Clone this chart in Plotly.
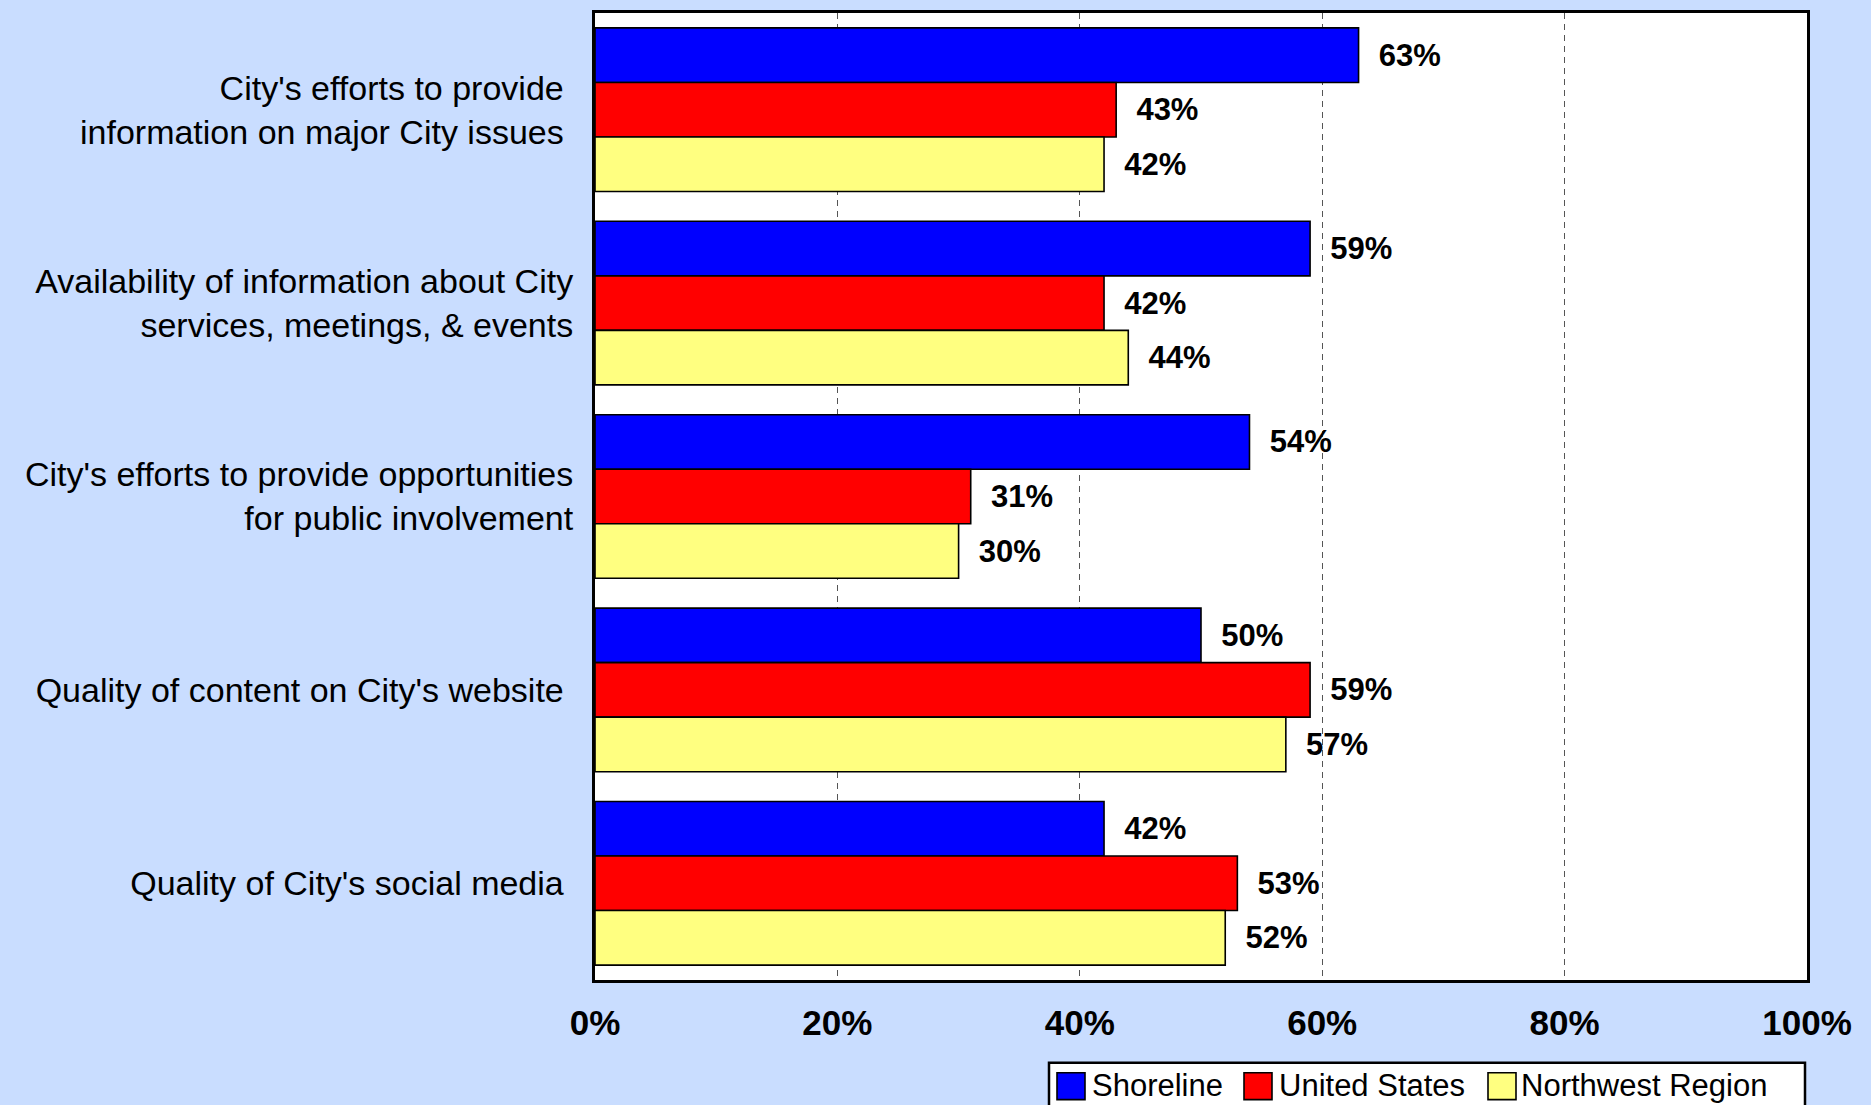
import plotly.graph_objects as go

categories = [
    "City's efforts to provide\u00a0<br>information on major City issues\u00a0",
    "Availability of information about City<br>services, meetings, & events",
    "City's efforts to provide opportunities<br>for public involvement",
    "Quality of content on City's website\u00a0",
    "Quality of City's social media\u00a0",
]
series_names = ["Shoreline", "United States", "Northwest Region"]
shoreline = [63, 59, 54, 50, 42]
united_states = [43, 42, 31, 59, 53]
northwest = [42, 44, 30, 57, 52]
x_ticks = [0, 20, 40, 60, 80, 100]
x_ticklabels = ["0%", "20%", "40%", "60%", "80%", "100%"]

colors = ["#0000FF", "#FF0000", "#FFFF80"]
series_values = [shoreline, united_states, northwest]

W, H = 1871, 1105
L, R, T, B = 595, 64, 10, 125
PW = W - L - R
PH = H - T - B
FONT = "Liberation Sans, Arial, sans-serif"
BG = "#C9DDFF"


def px_x(p):
    return (p - L) / PW


def px_y(p):
    return (H - B - p) / PH


fig = go.Figure()
for name, vals, col in zip(series_names, series_values, colors):
    fig.add_trace(go.Bar(
        y=categories, x=vals, name=name, orientation="h",
        marker=dict(color=col, line=dict(color="black", width=1.6)),
        text=["\u00a0\u00a0%d%%" % v for v in vals],
        textposition="outside",
        textfont=dict(family=FONT, size=31, color="black", weight="bold"),
        cliponaxis=False, showlegend=False,
    ))

fig.update_layout(
    width=W, height=H,
    margin=dict(l=L, r=R, t=T, b=B),
    paper_bgcolor=BG, plot_bgcolor="white",
    barmode="group", bargap=0.154, bargroupgap=0,
    font=dict(family=FONT, color="black"),
    xaxis=dict(
        range=[0, 100], tickvals=x_ticks, ticktext=x_ticklabels,
        tickfont=dict(family=FONT, size=35, color="black", weight="bold"),
        showgrid=True, gridcolor="#555555", gridwidth=1, griddash="6px,5px",
        zeroline=False, showline=True, linecolor="black", linewidth=3, mirror=True,
        ticks="", ticklabelstandoff=10, fixedrange=True,
    ),
    yaxis=dict(
        autorange="reversed", showgrid=False, zeroline=False,
        tickfont=dict(family=FONT, size=34, color="black"),
        showline=True, linecolor="black", linewidth=3, mirror=True,
        ticks="", ticklabelstandoff=12, fixedrange=True,
    ),
)

# Manual legend (box, swatches, labels)
shapes = [dict(type="rect", xref="paper", yref="paper",
               x0=px_x(1049), x1=px_x(1805), y0=px_y(1063), y1=px_y(1125),
               fillcolor="white", line=dict(color="black", width=2.5), layer="above")]
annotations = []
sw_x = [1057, 1244, 1488]
tx_x = [1090, 1277, 1519]
for name, col, sx, tx in zip(series_names, colors, sw_x, tx_x):
    shapes.append(dict(type="rect", xref="paper", yref="paper",
                       x0=px_x(sx), x1=px_x(sx + 28), y0=px_y(1073), y1=px_y(1100),
                       fillcolor=col, line=dict(color="black", width=1.6), layer="above"))
    annotations.append(dict(xref="paper", yref="paper", x=px_x(tx), y=px_y(1086),
                            xanchor="left", yanchor="middle", text=name, showarrow=False,
                            font=dict(family=FONT, size=31, color="black")))
fig.update_layout(shapes=shapes, annotations=annotations)

fig.write_html("out.html", config={"displayModeBar": False},
               post_script="document.body.style.margin='0';document.body.style.overflow='hidden';")
